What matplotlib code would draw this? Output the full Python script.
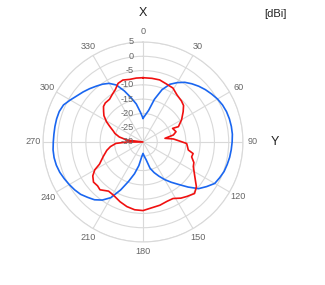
import numpy as np
import matplotlib
matplotlib.use("Agg")
import matplotlib.pyplot as plt

# pattern data, angle [deg] -> gain [dBi]
blue_ang = [0, 5, 10, 15, 20, 25, 30, 35, 40, 45, 50, 55, 60, 65, 70, 75, 80, 85,
            90, 95, 100, 105, 110, 115, 120, 125, 130, 135, 140, 145, 150, 155, 160,
            165, 170, 175, 180, 185, 190, 195, 200, 205, 210, 215, 220, 225, 230, 235,
            240, 245, 250, 255, 260, 265, 270, 275, 280, 285, 290, 295, 300, 305, 310,
            315, 320, 325, 330, 335, 340, 345, 350, 355, 360]
blue_db = [-21.7, -20.5, -18.8, -14.5, -10.5, -7.7, -6.0, -4.5, -3.4, -2.4, -1.5, -0.7,
           0.1, 0.7, 1.1, 1.3, 1.4, 1.4, 1.2, 1.0, 0.8, 0.5, 0.2, -0.4, -1.0, -2.8, -4.6,
           -7.7, -10.6, -12.8, -14.8, -16.8, -18.6, -20.5, -23.7, -25.0, -26.0, -24.8,
           -21.6, -18.5, -15.4, -11.5, -7.5, -5.2, -3.6, -2.6, -1.5, -0.8, -0.2, 0.4, 1.0,
           1.4, 1.6, 1.6, 1.4, 1.3, 1.3, 1.3, 1.2, 0.7, -0.6, -1.8, -2.7, -3.6, -4.5, -5.3,
           -6.3, -8.0, -11.0, -14.0, -16.5, -19.5, -21.7]

red_ang = [0, 8, 15, 22, 29, 36, 43, 48, 53, 60, 66.6, 65.3, 72.7, 77, 80.5, 84.3, 89.6,
           92, 100, 103, 107, 112, 116, 124, 130, 135, 141, 146, 152, 158, 165, 172, 180,
           187, 194, 201, 209, 215, 222, 226, 231, 236, 240, 243, 250, 257, 262, 267, 270,
           273, 277, 282, 287, 290, 295, 299, 304, 308, 312, 316, 322, 327, 332, 337, 342,
           348, 354, 360]
red_db = [-7.5, -7.5, -7.5, -8.1, -8.4, -9.7, -10.3, -10.9, -12.4, -14.4, -16.5, -18.6,
          -17.9, -19.1, -22.2, -19.3, -16.5, -14.7, -13.9, -12.0, -12.2, -10.8, -10.4, -8.1,
          -5.6, -4.5, -5.5, -6.3, -7.6, -7.6, -7.1, -6.8, -6.0, -6.1, -6.7, -7.6, -8.7,
          -9.0, -7.5, -7.9, -7.7, -8.8, -10.5, -12.9, -15.2, -17.0, -18.5, -20.5, -24.3,
          -30.0, -24.3, -21.5, -19.7, -19.0, -17.2, -15.4, -13.5, -12.5, -11.4, -11.0,
          -11.0, -10.2, -9.3, -7.7, -7.2, -7.6, -7.5, -7.5]

r_ticks = [-30, -25, -20, -15, -10, -5, 0, 5]
theta_ticks = [0, 30, 60, 90, 120, 150, 180, 210, 240, 270, 300, 330]

plt.rcParams['font.family'] = ['Liberation Sans', 'DejaVu Sans']

fig = plt.figure(figsize=(3.25, 2.85), dpi=100)
ax = fig.add_axes([43/325, 43/285, 200/325, 200/285], projection='polar')
ax.set_theta_zero_location('N')
ax.set_theta_direction(-1)
ax.set_ylim(-30, 5)

ax.plot(np.radians(blue_ang), blue_db, color='#1a66f0', lw=1.2)
ax.plot(np.radians(red_ang), red_db, color='#f01010', lw=1.2)

gc = '#d9d9d9'
ax.set_yticks(r_ticks)
ax.set_yticklabels([])
ax.set_xticks(np.radians(theta_ticks))
ax.set_xticklabels([])
ax.grid(True, color=gc, lw=0.8)
ax.spines['polar'].set_color(gc)
ax.spines['polar'].set_linewidth(0.8)
ax.tick_params(length=0)

tc = '#666666'
for r in r_ticks:
    ax.annotate(str(r), xy=(0, r), xytext=(-6.5, 0), textcoords='offset points',
                ha='right', va='center', fontsize=6.6, color=tc, annotation_clip=False)
for a in theta_ticks:
    ax.text(np.radians(a), 8.5, str(a), ha='center', va='center', fontsize=6.6,
            color=tc, clip_on=False)

fig.text(143/325, 1 - 12.5/285, 'X', ha='center', va='center', fontsize=9, color='#222222')
fig.text(275/325, 1 - 142/285, 'Y', ha='center', va='center', fontsize=9, color='#222222')
fig.text(275/325, 1 - 14/285, '[dBi]', ha='center', va='center', fontsize=8, color='#222222')

fig.savefig('out.png', dpi=100)
